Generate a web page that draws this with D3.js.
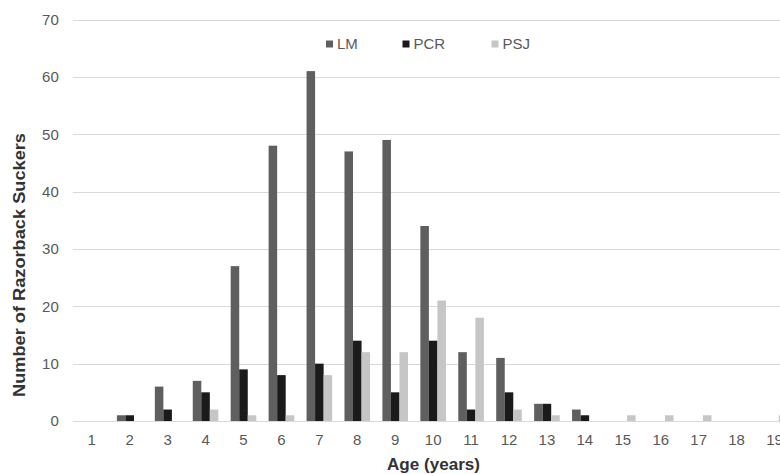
<!DOCTYPE html>
<html>
<head>
<meta charset="utf-8">
<script src="https://cdn.jsdelivr.net/npm/d3@7"></script>
<style>
  body { margin: 0; background: #fff; }
  svg { display: block; font-family: "Liberation Sans", Arial, sans-serif; }
</style>
</head>
<body>
<svg id="chart" width="780" height="474"></svg>
<script>
// --- data
const ages = [1, 2, 3, 4, 5, 6, 7, 8, 9, 10, 11, 12, 13, 14, 15, 16, 17, 18, 19]
const seriesNames = ['LM', 'PCR', 'PSJ']
const lmValues  = [0, 1, 6, 7, 27, 48, 61, 47, 49, 34, 12, 11, 3, 2, 0, 0, 0, 0, 0]
const pcrValues = [0, 1, 2, 5, 9, 8, 10, 14, 5, 14, 2, 5, 3, 1, 0, 0, 0, 0, 0]
const psjValues = [0, 0, 0, 2, 1, 1, 8, 12, 12, 21, 18, 2, 1, 0, 1, 1, 1, 0, 1]
const yTicks = [0, 10, 20, 30, 40, 50, 60, 70]

const colors = {LM: '#5f5f5f', PCR: '#1a1a1a', PSJ: '#c6c6c6'}
const valuesBySeries = {LM: lmValues, PCR: pcrValues, PSJ: psjValues}

const rows = ages.map((age, i) => ({
    age: age,
    values: seriesNames.map(name => ({name: name, value: valuesBySeries[name][i]}))
}))

const svg = d3.select('#chart')

// plot area runs past the right edge of the picture, like the original
const plotLeft = 72.8, plotRight = 793.5, plotTop = 19.5, plotBottom = 421

const x0 = d3.scaleBand()
    .domain(ages)
    .range([plotLeft, plotRight])
    .paddingInner(0.325)
    .paddingOuter(0.1625)

const x1 = d3.scaleBand()
    .domain(seriesNames)
    .range([0, x0.bandwidth()])

const y = d3.scaleLinear()
    .domain([0, 70])
    .range([plotBottom, plotTop])

// --- gridlines
svg.append('g')
    .selectAll('line')
    .data(yTicks)
    .join('line')
    .attr('x1', plotLeft)
    .attr('x2', plotRight)
    .attr('y1', d => Math.round(y(d)) + 0.5)
    .attr('y2', d => Math.round(y(d)) + 0.5)
    .attr('stroke', '#d9d9d9')
    .attr('stroke-width', 1.2)

// --- y axis labels
const yAxis = svg.append('g')
    .attr('transform', `translate(${plotLeft - 14},0)`)
    .call(d3.axisLeft(y).tickValues(yTicks).tickSize(0).tickPadding(0))
yAxis.select('.domain').remove()
yAxis.selectAll('text')
    .attr('fill', '#595959')
    .style('font-size', '15px')

// --- x axis labels
const xAxis = svg.append('g')
    .attr('transform', `translate(0,${plotBottom + 13})`)
    .call(d3.axisBottom(x0).tickSize(0).tickPadding(0))
xAxis.select('.domain').remove()
xAxis.selectAll('text')
    .attr('fill', '#595959')
    .style('font-size', '15px')

// --- bars
const groups = svg.append('g')
    .selectAll('g')
    .data(rows)
    .join('g')
    .attr('transform', d => `translate(${x0(d.age)},0)`)

groups.selectAll('rect')
    .data(d => d.values)
    .join('rect')
    .attr('x', d => x1(d.name))
    .attr('width', x1.bandwidth())
    .attr('y', d => y(d.value))
    .attr('height', d => y(0) - y(d.value))
    .attr('fill', d => colors[d.name])

// --- legend
const legendX = [326, 402.5, 491.5]
const legend = svg.append('g')
    .selectAll('g')
    .data(seriesNames)
    .join('g')
    .attr('transform', (d, i) => `translate(${legendX[i]},44)`)

legend.append('rect')
    .attr('x', 0)
    .attr('y', -3.5)
    .attr('width', 7)
    .attr('height', 7)
    .attr('fill', d => colors[d])

legend.append('text')
    .attr('x', 11)
    .attr('dy', '0.35em')
    .attr('fill', '#595959')
    .style('font-size', '15px')
    .text(d => d)

// --- axis titles
svg.append('text')
    .attr('x', 433.5)
    .attr('y', 469.5)
    .attr('text-anchor', 'middle')
    .attr('fill', '#333')
    .style('font-size', '17px')
    .style('font-weight', 'bold')
    .attr('textLength', 93)
    .attr('lengthAdjust', 'spacingAndGlyphs')
    .text('Age (years)')

svg.append('text')
    .attr('transform', 'translate(24.5,265) rotate(-90)')
    .attr('text-anchor', 'middle')
    .attr('fill', '#333')
    .style('font-size', '16.5px')
    .style('font-weight', 'bold')
    .attr('textLength', 264)
    .attr('lengthAdjust', 'spacingAndGlyphs')
    .text('Number of Razorback Suckers')
</script>
</body>
</html>
